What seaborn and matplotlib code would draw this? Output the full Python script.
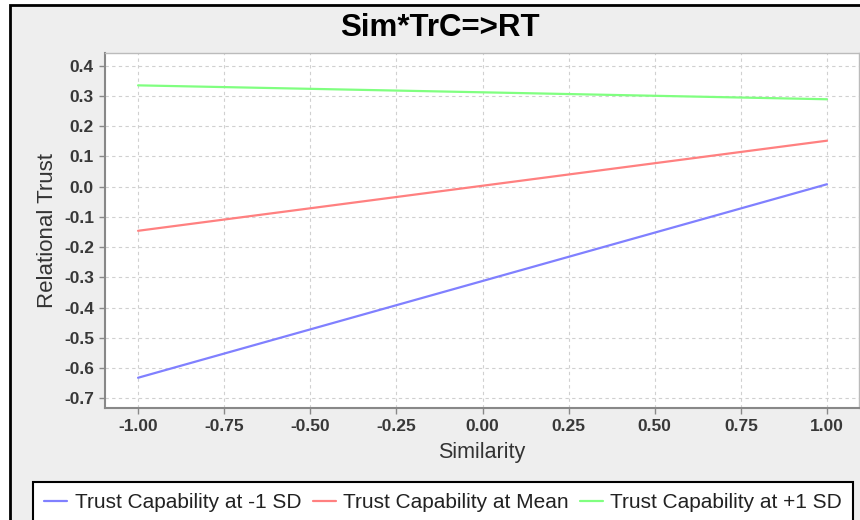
import matplotlib
matplotlib.use("Agg")
import matplotlib.pyplot as plt
import seaborn as sns
import pandas as pd
from matplotlib.patches import Rectangle
from matplotlib.ticker import FixedLocator, FormatStrFormatter

# ---- data ----
similarity = [-1.0, 1.0]
low_sd = [-0.632, 0.008]       # Trust Capability at -1 SD
mean_tc = [-0.146, 0.152]      # Trust Capability at Mean
high_sd = [0.335, 0.289]       # Trust Capability at +1 SD
series_names = ["Trust Capability at -1 SD", "Trust Capability at Mean", "Trust Capability at +1 SD"]
x_ticks = [-1.00, -0.75, -0.50, -0.25, 0.00, 0.25, 0.50, 0.75, 1.00]
y_ticks = [0.4, 0.3, 0.2, 0.1, 0.0, -0.1, -0.2, -0.3, -0.4, -0.5, -0.6, -0.7]

df = pd.DataFrame({
    "Similarity": similarity * 3,
    "Relational Trust": low_sd + mean_tc + high_sd,
    "Series": [series_names[0]] * 2 + [series_names[1]] * 2 + [series_names[2]] * 2,
})
palette = {series_names[0]: "#8080ff", series_names[1]: "#ff8080", series_names[2]: "#80ff80"}

sns.set_style("white")
plt.rcParams["font.family"] = ["Liberation Sans", "DejaVu Sans"]

W, H = 860, 520
fig = plt.figure(figsize=(W / 100, H / 100), dpi=100, facecolor="white")

# outer panel with black border on left/top
bg = Rectangle((10 / W, -0.1), 1.2, 1 - 5 / H + 0.1, transform=fig.transFigure,
               facecolor="#eeeeee", edgecolor="black", linewidth=2, zorder=-10)
fig.patches.append(bg)

ax = fig.add_axes([105 / W, 1 - 408 / H, (859 - 105) / W, (408 - 53) / H])
ax.set_zorder(1)
ax.set_facecolor("white")

sns.lineplot(data=df, x="Similarity", y="Relational Trust", hue="Series", palette=palette,
             linewidth=1.6, ax=ax, legend=False, zorder=3)

ax.set_xlim(-1.096, 1.093)
ax.set_ylim(-0.732, 0.442)
ax.xaxis.set_major_locator(FixedLocator(x_ticks))
ax.yaxis.set_major_locator(FixedLocator(y_ticks))
ax.xaxis.set_major_formatter(FormatStrFormatter("%.2f"))
ax.yaxis.set_major_formatter(FormatStrFormatter("%.1f"))
ax.grid(True, linestyle=(0, (3, 3)), color="#d0d0d0", linewidth=0.8)
ax.tick_params(axis="both", which="major", direction="out", length=4, width=1, color="#888888",
               labelsize=12.5, labelcolor="#383838", pad=4, left=True, bottom=True)
for lab in ax.get_xticklabels() + ax.get_yticklabels():
    lab.set_fontweight("bold")
for side in ["left", "bottom"]:
    ax.spines[side].set_color("#888888")
    ax.spines[side].set_linewidth(1.5)
for side in ["top", "right"]:
    ax.spines[side].set_color("#bbbbbb")
    ax.spines[side].set_linewidth(1.0)

ax.set_xlabel("Similarity", fontsize=15.5, color="#333333", labelpad=6)
ax.set_ylabel("Relational Trust", fontsize=16, color="#333333", labelpad=4)

fig.text(440 / W, 1 - 28 / H, "Sim*TrC=>RT", ha="center", va="center", fontsize=22.5,
         fontweight="bold", color="black")

handles = [plt.Line2D([], [], color=palette[n], linewidth=1.6) for n in series_names]
leg = fig.legend(handles, series_names, loc="upper left",
                 bbox_to_anchor=(33 / W, 1 - 482 / H),
                 ncol=3, fontsize=15, frameon=True, fancybox=False,
                 edgecolor="black", facecolor="white", framealpha=1,
                 handlelength=1.1, handletextpad=0.35, columnspacing=0.55,
                 borderpad=0.55, borderaxespad=0)
leg.get_frame().set_linewidth(1.5)
for t in leg.get_texts():
    t.set_color("#222222")

fig.savefig("out.png", dpi=100, facecolor=fig.get_facecolor())
